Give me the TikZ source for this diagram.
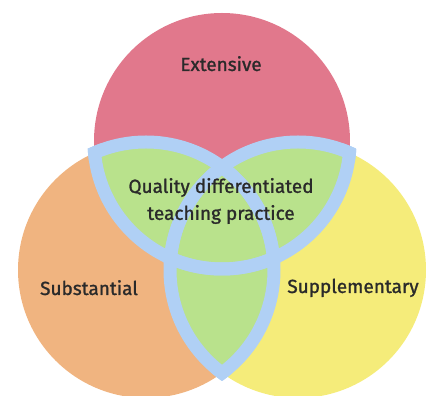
\documentclass[tikz,border=0pt]{standalone}
\usepackage{fontspec}
\setmainfont{Fira Sans}[FakeBold=1.2]
\definecolor{extred}{HTML}{E1788C}
\definecolor{suborange}{HTML}{F0B480}
\definecolor{supyellow}{HTML}{F5EC7A}
\definecolor{coregreen}{HTML}{B9E28C}
\definecolor{bandblue}{HTML}{B0D0F5}
\definecolor{venngray}{HTML}{2A2A2A}
\tikzset{
  venntext/.style={text=venngray, font=\fontsize{19}{27}\selectfont},
  vennband/.style={draw=bandblue, line width=13pt}
}
\def\vennrad{128}
\begin{document}
\begin{tikzpicture}[x=1pt,y=1pt]
    \useasboundingbox (0,0) rectangle (429,396);
    \clip (0,0) rectangle (429,396);

    \coordinate (ext) at (222,255);
    \coordinate (sub) at (146,126);
    \coordinate (sup) at (298,126);

    % the three sets
    \fill[extred] (ext) circle[radius=\vennrad];
    \fill[suborange] (sub) circle[radius=\vennrad];
    \fill[supyellow] (sup) circle[radius=\vennrad];

    % overlaps
    \begin{scope}
      \clip (ext) circle[radius=\vennrad];
      \fill[coregreen] (sub) circle[radius=\vennrad];
      \fill[coregreen] (sup) circle[radius=\vennrad];
    \end{scope}
    \begin{scope}
      \clip (sub) circle[radius=\vennrad];
      \fill[coregreen] (sup) circle[radius=\vennrad];
    \end{scope}

    % borders inside the other sets
    \foreach \a/\b in {ext/sub, ext/sup, sub/ext, sub/sup, sup/ext, sup/sub} {
      \begin{scope}
        \clip (\b) circle[radius=\vennrad+6.5];
        \draw[vennband] (\a) circle[radius=\vennrad];
      \end{scope}
    }

    \node[venntext, anchor=base] (extlabel) at (221,325) {Extensive};
    \node[venntext, align=center] (core) at (221,195) {Quality differentiated\\teaching practice};
    \node[venntext, anchor=base] (sublabel) at (89,101) {Substantial};
    \node[venntext, anchor=base] (suplabel) at (353,103) {Supplementary};
\end{tikzpicture}
\end{document}
